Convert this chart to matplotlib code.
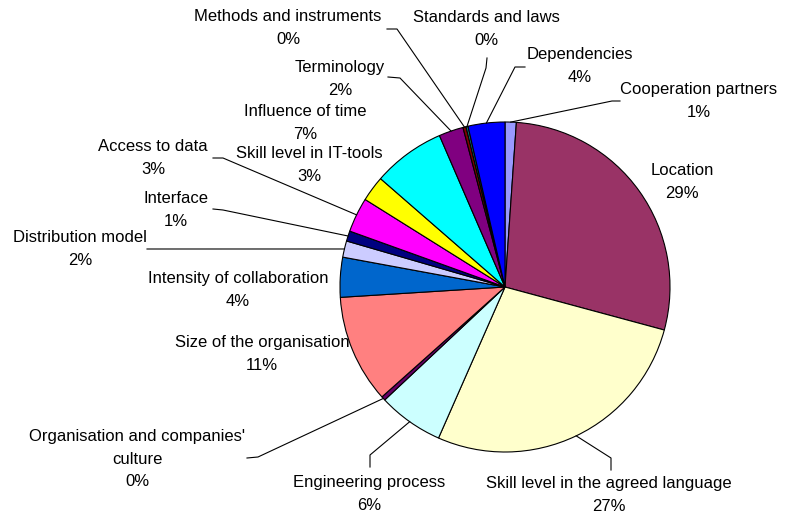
import matplotlib.pyplot as plt
import numpy as np

# slices, clockwise from 12 o'clock
categories = ["Cooperation partners", "Location", "Skill level in the agreed language",
              "Engineering process", "Organisation and companies'\nculture",
              "Size of the organisation", "Intensity of collaboration", "Distribution model",
              "Interface", "Access to data", "Skill level in IT-tools", "Influence of time",
              "Terminology", "Methods and instruments", "Standards and laws", "Dependencies"]
shares = [1.1, 28.1, 27.4, 6.4, 0.4, 10.6, 3.9, 1.6, 1.0, 3.4, 2.5, 7.1, 2.4, 0.3, 0.2, 3.6]
pct_labels = ["1%", "29%", "27%", "6%", "0%", "11%", "4%", "2%",
              "1%", "3%", "3%", "7%", "2%", "0%", "0%", "4%"]
colors = ["#9999FF", "#993366", "#FFFFCC", "#CCFFFF", "#660066", "#FF8080", "#0066CC", "#CCCCFF",
          "#000080", "#FF00FF", "#FFFF00", "#00FFFF", "#800080", "#800000", "#008080", "#0000FF"]

W, H = 794, 516
CX, CY, R = 505, 287, 165   # pie centre / radius in pixels (y from top)

# label block centres (pixels, y from top) and leader lines (elbow, end)
label_pos = [(699, 101), (682, 182), (609, 495), (369, 494), (137, 459), (262, 354),
             (238, 290), (80, 249), (176, 210), (153, 158), (309, 165), (305, 123),
             (340, 79), (288, 28), (486, 29), (580, 66)]
leaders = [[(612, 101), (620, 101)], None, [(611, 458), (611, 470)], [(370, 455), (370, 467)],
           [(258, 457), (247, 458)], None, None, [(160, 249), (147, 249)],
           [(223, 210), (213, 209)], [(223, 158), (213, 158)], None, None,
           [(400, 78), (388, 77)], [(397, 29), (387, 29)], [(486, 68), (487, 58)],
           [(515, 67), (525, 67)]]

plt.rcParams['font.family'] = ['Liberation Sans', 'DejaVu Sans']

fig = plt.figure(figsize=(W / 100, H / 100), dpi=100)
ax = fig.add_axes([0, 0, 1, 1])
ax.set_xlim(0, W)
ax.set_ylim(0, H)
ax.set_aspect('equal')
ax.axis('off')

wedges, _ = ax.pie(shares, colors=colors, startangle=90, counterclock=False,
                   center=(CX, H - CY), radius=R,
                   wedgeprops=dict(edgecolor='black', linewidth=0.8))
ax.set_xlim(0, W)
ax.set_ylim(0, H)

for w, name, pct, pos, lead in zip(wedges, categories, pct_labels, label_pos, leaders):
    ax.text(pos[0], H - pos[1], f"{name}\n{pct}", ha='center', va='center',
            fontsize=12, linespacing=1.65, color='black')
    if lead is not None:
        mid = np.deg2rad((w.theta1 + w.theta2) / 2)
        x0 = CX + R * np.cos(mid)
        y0 = (H - CY) + R * np.sin(mid)
        xs = [x0] + [p[0] for p in lead]
        ys = [y0] + [H - p[1] for p in lead]
        ax.plot(xs, ys, color='black', linewidth=0.8)

fig.savefig("out.png", dpi=100)
